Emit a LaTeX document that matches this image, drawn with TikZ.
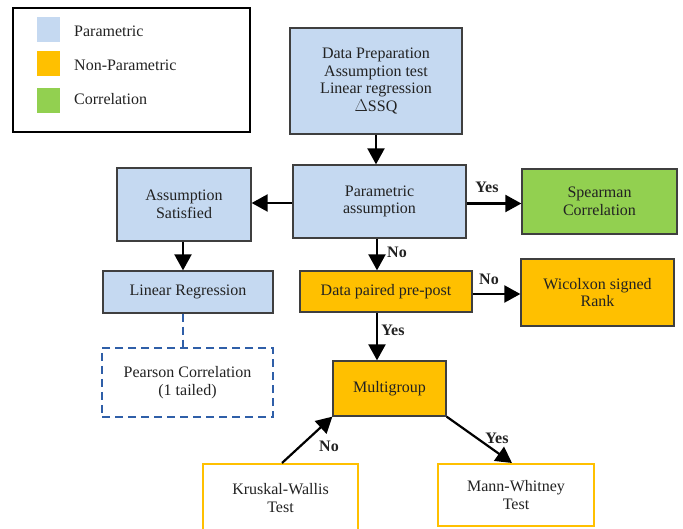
\documentclass[tikz,border=0pt]{standalone}
\usepackage{fontspec}
\setmainfont{Liberation Serif}
\usetikzlibrary{arrows.meta}
\definecolor{pblue}{HTML}{C5D9F1}
\definecolor{porange}{HTML}{FFC000}
\definecolor{pgreen}{HTML}{92D050}
\definecolor{pborder}{HTML}{3F3F3F}
\definecolor{pdash}{HTML}{2F5FA8}
\definecolor{ptext}{HTML}{222222}
\tikzset{
  box/.style={draw=pborder, line width=1.3pt, rectangle, align=center, text=ptext,
    font=\fontsize{16}{17.6}\selectfont, inner sep=0pt},
  parbox/.style={box, fill=pblue},
  nonbox/.style={box, fill=porange},
  corbox/.style={box, fill=pgreen},
  openbox/.style={box, draw=porange, line width=2pt, fill=white},
  dashbox/.style={box, draw=pdash, line width=2pt, dash pattern=on 8pt off 5pt, fill=white},
  flow/.style={line width=2.2pt, -{Triangle[width=17pt,length=16pt]}},
  lbl/.style={font=\bfseries\fontsize{16}{17}\selectfont, text=ptext, inner sep=0pt},
  legtext/.style={font=\fontsize{16}{17.6}\selectfont, text=ptext, anchor=west, inner sep=0pt},
  swatch/.style={rectangle, inner sep=0pt, minimum width=23pt, minimum height=25pt}
}
\begin{document}
\begin{tikzpicture}[x=1pt,y=-1pt]
\clip (0,0) rectangle (683,529);
\fill[white] (0,0) rectangle (683,529);
% legend
\node[draw=black, line width=2pt, minimum width=237pt, minimum height=124pt, inner sep=0pt] (legend) at (131.5,70) {};
\node[swatch, fill=pblue] (sw1) at (48.5,30) {};
\node[swatch, fill=porange] (sw2) at (48.5,63.5) {};
\node[swatch, fill=pgreen] (sw3) at (48.5,101) {};
\node[legtext] (lt1) at (74,31) {Parametric};
\node[legtext] (lt2) at (74,65) {Non-Parametric};
\node[legtext] (lt3) at (74,99) {Correlation};
% boxes
\node[parbox, minimum width=172pt, minimum height=106pt] (prep) at (376,81)
  {Data Preparation\\Assumption test\\Linear regression\\$\Delta$SSQ};
\node[parbox, minimum width=173pt, minimum height=73pt] (param) at (379.5,201.5)
  {Parametric\\assumption};
\node[parbox, minimum width=134pt, minimum height=73pt] (assum) at (184,204.5)
  {Assumption\\Satisfied};
\node[parbox, minimum width=170pt, minimum height=42pt] (linreg) at (188,292)
  {Linear Regression};
\node[dashbox, minimum width=171pt, minimum height=69pt] (pearson) at (187.5,382.5)
  {Pearson Correlation\\(1 tailed)};
\node[corbox, minimum width=155pt, minimum height=65pt] (spear) at (599.5,201.5)
  {Spearman\\Correlation};
\node[nonbox, minimum width=153pt, minimum height=67pt] (wilc) at (597.5,292.5)
  {Wicolxon signed\\Rank};
\node[nonbox, minimum width=172pt, minimum height=41pt] (dpp) at (386,291.5)
  {Data paired pre-post};
\node[nonbox, minimum width=113pt, minimum height=55pt] (multi) at (389.5,388.5)
  {Multigroup};
\node[openbox, minimum width=155pt, minimum height=68pt] (krus) at (280.5,498)
  {Kruskal-Wallis\\Test};
\node[openbox, minimum width=156pt, minimum height=62pt] (mann) at (516,495)
  {Mann-Whitney\\Test};
% connectors
\coordinate (prepout) at ([xshift=0pt]prep.south);
\draw[flow] (prepout) -- (prepout |- param.north);
\draw[flow] ([yshift=-1.5pt]param.west) -- ([yshift=-1.5pt]param.west -| assum.east);
\draw[flow] ([yshift=-2pt]param.east) -- ([yshift=-2pt]param.east -| spear.west);
\coordinate (paramout) at ([xshift=-2.5pt]param.south);
\draw[flow] (paramout) -- (paramout |- dpp.north);
\draw[flow] ([yshift=-2.5pt]dpp.east) -- ([yshift=-2.5pt]dpp.east -| wilc.west);
\coordinate (dppout) at (377,312);
\draw[flow] (dppout |- dpp.south) -- (dppout |- multi.north);
\coordinate (krusout) at (282,464);
\draw[flow] (krusout |- krus.north) -- (multi.south west);
\coordinate (mannin) at (512,464);
\draw[flow] (multi.south east) -- (mannin |- mann.north);
\coordinate (assout) at (183,241);
\draw[flow] (assout |- assum.south) -- (assout |- linreg.north);
\draw[line width=2pt, draw=pdash, dash pattern=on 8pt off 5pt] (assout |- linreg.south) -- (assout |- pearson.north);
% labels
\node[lbl] (ly1) at (487,187) {Yes};
\node[lbl] (ln1) at (397,252) {No};
\node[lbl] (ln2) at (489,279) {No};
\node[lbl] (ly2) at (393,330) {Yes};
\node[lbl] (ln3) at (329,446) {No};
\node[lbl] (ly3) at (497,438) {Yes};
\end{tikzpicture}
\end{document}
